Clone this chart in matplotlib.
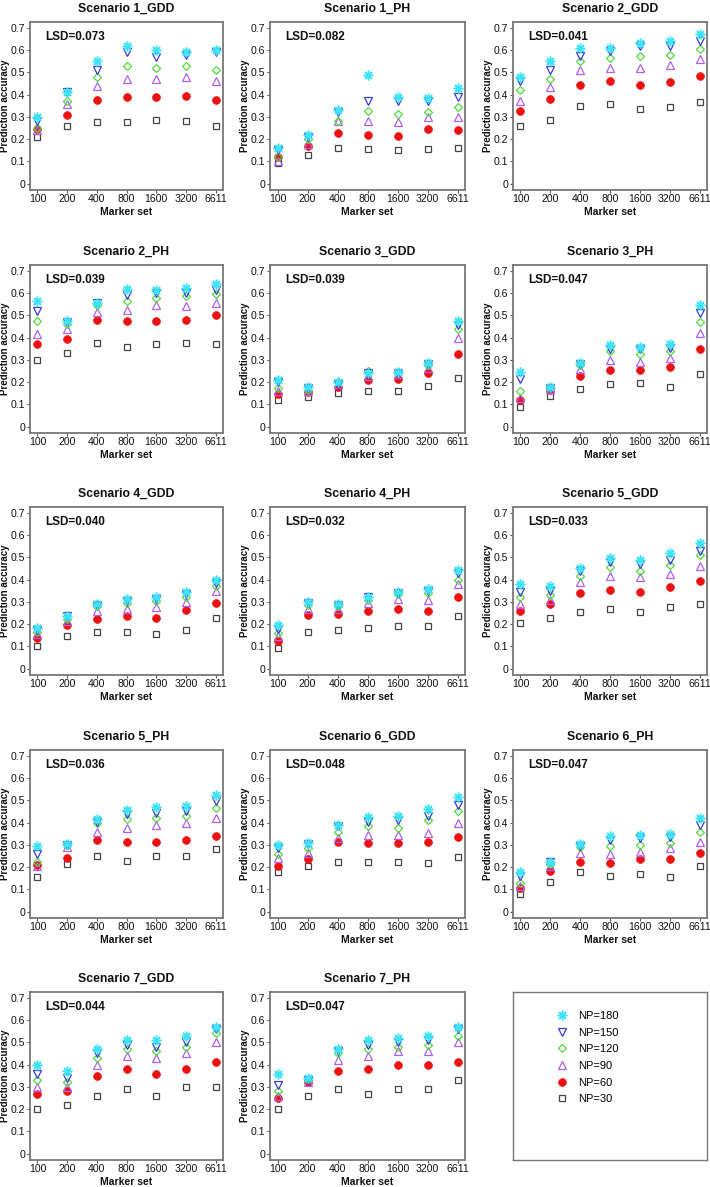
import matplotlib
matplotlib.use("Agg")
import matplotlib.pyplot as plt
from matplotlib.lines import Line2D

plt.rcParams['font.family'] = ['Liberation Sans', 'DejaVu Sans']

marker_sets = ["100", "200", "400", "800", "1600", "3200", "6611"]
series_names = ["NP=180", "NP=150", "NP=120", "NP=90", "NP=60", "NP=30"]

titles = ["Scenario 1_GDD", "Scenario 1_PH", "Scenario 2_GDD", "Scenario 2_PH",
          "Scenario 3_GDD", "Scenario 3_PH", "Scenario 4_GDD", "Scenario 4_PH",
          "Scenario 5_GDD", "Scenario 5_PH", "Scenario 6_GDD", "Scenario 6_PH",
          "Scenario 7_GDD", "Scenario 7_PH"]
lsd = ["0.073", "0.082", "0.041", "0.039", "0.039", "0.047", "0.040",
       "0.032", "0.033", "0.036", "0.048", "0.047", "0.044", "0.047"]

# each panel: rows = NP180, NP150, NP120, NP90, NP60, NP30
s1_gdd = [[0.30, 0.41, 0.55, 0.62, 0.60, 0.59, 0.60],
          [0.28, 0.41, 0.51, 0.59, 0.57, 0.58, 0.59],
          [0.25, 0.37, 0.48, 0.53, 0.52, 0.53, 0.51],
          [0.24, 0.36, 0.44, 0.47, 0.47, 0.48, 0.46],
          [0.245, 0.31, 0.375, 0.39, 0.39, 0.395, 0.375],
          [0.21, 0.26, 0.275, 0.275, 0.285, 0.28, 0.26]]
s1_ph = [[0.16, 0.22, 0.33, 0.49, 0.39, 0.385, 0.43],
         [0.15, 0.21, 0.32, 0.37, 0.37, 0.37, 0.39],
         [0.12, 0.20, 0.28, 0.325, 0.315, 0.32, 0.345],
         [0.10, 0.18, 0.28, 0.28, 0.275, 0.30, 0.30],
         [0.12, 0.17, 0.23, 0.22, 0.215, 0.245, 0.24],
         [0.095, 0.13, 0.16, 0.155, 0.15, 0.155, 0.16]]
s2_gdd = [[0.48, 0.55, 0.61, 0.61, 0.63, 0.64, 0.67],
          [0.46, 0.51, 0.575, 0.595, 0.62, 0.62, 0.64],
          [0.42, 0.47, 0.55, 0.565, 0.575, 0.58, 0.605],
          [0.37, 0.435, 0.51, 0.52, 0.52, 0.535, 0.56],
          [0.325, 0.38, 0.445, 0.46, 0.445, 0.455, 0.485],
          [0.26, 0.285, 0.35, 0.36, 0.335, 0.345, 0.365]]
s2_ph = [[0.565, 0.475, 0.555, 0.62, 0.615, 0.625, 0.64],
         [0.52, 0.47, 0.555, 0.59, 0.60, 0.60, 0.615],
         [0.475, 0.46, 0.545, 0.565, 0.58, 0.585, 0.595],
         [0.415, 0.44, 0.515, 0.525, 0.545, 0.54, 0.555],
         [0.37, 0.395, 0.48, 0.475, 0.475, 0.48, 0.50],
         [0.30, 0.33, 0.375, 0.36, 0.37, 0.375, 0.37]]
s3_gdd = [[0.21, 0.18, 0.20, 0.24, 0.245, 0.285, 0.475],
          [0.20, 0.175, 0.19, 0.24, 0.24, 0.28, 0.455],
          [0.175, 0.165, 0.20, 0.25, 0.24, 0.275, 0.44],
          [0.16, 0.16, 0.19, 0.23, 0.235, 0.265, 0.40],
          [0.145, 0.155, 0.18, 0.21, 0.215, 0.24, 0.325],
          [0.12, 0.135, 0.15, 0.16, 0.16, 0.185, 0.22]]
s3_ph = [[0.245, 0.18, 0.285, 0.365, 0.36, 0.37, 0.545],
         [0.215, 0.175, 0.28, 0.35, 0.35, 0.355, 0.51],
         [0.16, 0.175, 0.275, 0.34, 0.325, 0.34, 0.47],
         [0.13, 0.17, 0.26, 0.30, 0.29, 0.31, 0.42],
         [0.12, 0.165, 0.23, 0.255, 0.255, 0.27, 0.35],
         [0.09, 0.14, 0.17, 0.19, 0.195, 0.18, 0.235]]
s4_gdd = [[0.185, 0.235, 0.29, 0.315, 0.32, 0.345, 0.40],
          [0.175, 0.235, 0.285, 0.305, 0.315, 0.335, 0.385],
          [0.165, 0.225, 0.28, 0.295, 0.305, 0.32, 0.37],
          [0.155, 0.215, 0.26, 0.27, 0.275, 0.30, 0.35],
          [0.14, 0.195, 0.225, 0.235, 0.23, 0.265, 0.295],
          [0.10, 0.145, 0.165, 0.165, 0.155, 0.175, 0.23]]
s4_ph = [[0.195, 0.30, 0.29, 0.32, 0.345, 0.36, 0.445],
         [0.18, 0.295, 0.285, 0.32, 0.34, 0.35, 0.43],
         [0.16, 0.285, 0.28, 0.31, 0.335, 0.34, 0.40],
         [0.145, 0.27, 0.27, 0.295, 0.315, 0.31, 0.38],
         [0.125, 0.24, 0.245, 0.26, 0.27, 0.26, 0.32],
         [0.095, 0.165, 0.175, 0.185, 0.19, 0.19, 0.235]]
s5_gdd = [[0.38, 0.37, 0.45, 0.495, 0.49, 0.52, 0.565],
          [0.345, 0.35, 0.44, 0.48, 0.47, 0.49, 0.53],
          [0.32, 0.33, 0.415, 0.455, 0.44, 0.465, 0.51],
          [0.29, 0.31, 0.39, 0.415, 0.41, 0.425, 0.46],
          [0.26, 0.29, 0.34, 0.355, 0.345, 0.365, 0.395],
          [0.205, 0.23, 0.255, 0.27, 0.255, 0.275, 0.29]]
s5_ph = [[0.295, 0.305, 0.415, 0.455, 0.47, 0.475, 0.525],
         [0.26, 0.30, 0.405, 0.44, 0.445, 0.45, 0.495],
         [0.225, 0.30, 0.40, 0.415, 0.42, 0.43, 0.465],
         [0.205, 0.29, 0.36, 0.375, 0.39, 0.40, 0.42],
         [0.21, 0.24, 0.32, 0.315, 0.315, 0.32, 0.34],
         [0.155, 0.215, 0.25, 0.23, 0.25, 0.25, 0.28]]
s6_gdd = [[0.30, 0.31, 0.39, 0.425, 0.43, 0.46, 0.515],
          [0.285, 0.305, 0.385, 0.405, 0.41, 0.43, 0.48],
          [0.26, 0.285, 0.36, 0.385, 0.375, 0.41, 0.45],
          [0.24, 0.265, 0.33, 0.345, 0.345, 0.355, 0.40],
          [0.205, 0.235, 0.315, 0.31, 0.31, 0.315, 0.335],
          [0.18, 0.205, 0.225, 0.225, 0.225, 0.22, 0.245]]
s6_ph = [[0.18, 0.225, 0.305, 0.34, 0.345, 0.35, 0.42],
         [0.16, 0.225, 0.295, 0.32, 0.33, 0.335, 0.39],
         [0.13, 0.215, 0.29, 0.295, 0.30, 0.31, 0.36],
         [0.115, 0.205, 0.265, 0.26, 0.27, 0.285, 0.315],
         [0.105, 0.185, 0.225, 0.22, 0.235, 0.235, 0.265],
         [0.08, 0.135, 0.18, 0.16, 0.17, 0.155, 0.205]]
s7_gdd = [[0.40, 0.37, 0.47, 0.51, 0.51, 0.53, 0.57],
          [0.36, 0.34, 0.45, 0.49, 0.48, 0.50, 0.56],
          [0.33, 0.32, 0.43, 0.47, 0.46, 0.48, 0.54],
          [0.30, 0.30, 0.40, 0.44, 0.43, 0.45, 0.50],
          [0.27, 0.28, 0.35, 0.38, 0.36, 0.38, 0.41],
          [0.20, 0.22, 0.26, 0.29, 0.26, 0.30, 0.30]]
s7_ph = [[0.36, 0.34, 0.47, 0.51, 0.52, 0.53, 0.57],
         [0.31, 0.33, 0.46, 0.49, 0.50, 0.51, 0.56],
         [0.28, 0.33, 0.45, 0.47, 0.48, 0.49, 0.53],
         [0.26, 0.32, 0.42, 0.44, 0.46, 0.46, 0.50],
         [0.25, 0.32, 0.37, 0.38, 0.40, 0.40, 0.41],
         [0.20, 0.26, 0.29, 0.27, 0.29, 0.29, 0.33]]

panels = [s1_gdd, s1_ph, s2_gdd, s2_ph, s3_gdd, s3_ph, s4_gdd, s4_ph,
          s5_gdd, s5_ph, s6_gdd, s6_ph, s7_gdd, s7_ph]

# styles (NP180 ... NP30)
styles = [
    dict(marker=(8, 2, 0), color='#3fe3f7', mfc='#3fe3f7', ms=7.0, mew=1.1),
    dict(marker='v', color='#3a3ad8', mfc='none', ms=5.2, mew=0.9),
    dict(marker='D', color='#4fdc3c', mfc='none', ms=4.2, mew=0.9),
    dict(marker='^', color='#b060f0', mfc='none', ms=5.2, mew=0.9),
    dict(marker='o', color='#ee1111', mfc='#ee1111', ms=5.6, mew=0.5),
    dict(marker='s', color='#444444', mfc='none', ms=4.3, mew=0.9),
]

W, H = 710, 1187
fig = plt.figure(figsize=(W / 100, H / 100), dpi=100)

col_left = [30, 270, 513]
col_w = [193, 195, 194]
row_top = [22, 265, 507, 750, 992]
ax_h = 168
frame_col = '#777777'

def add_ax(r, c):
    l = col_left[c]
    t = row_top[r]
    return fig.add_axes([l / W, 1 - (t + ax_h) / H, col_w[c] / W, ax_h / H])

xs = list(range(len(marker_sets)))
for i, data in enumerate(panels):
    r, c = divmod(i, 3)
    ax = add_ax(r, c)
    for k in range(len(series_names) - 1, -1, -1):
        st = styles[k]
        ax.plot(xs, data[k], linestyle='none', marker=st['marker'], color=st['color'],
                mfc=st['mfc'], ms=st['ms'], mew=st['mew'], zorder=3 + (5 - k))
    ax.set_xlim(-0.25, 6.25)
    ax.set_ylim(-0.028, 0.726)
    ax.set_xticks(xs)
    ax.set_xticklabels(marker_sets)
    ax.set_yticks([0, 0.1, 0.2, 0.3, 0.4, 0.5, 0.6, 0.7])
    ax.set_yticklabels(["0", "0.1", "0.2", "0.3", "0.4", "0.5", "0.6", "0.7"])
    ax.tick_params(axis='both', labelsize=7.6, length=2.2, width=0.8, color='#555555',
                   pad=1.0, labelcolor='#111111')
    for sp in ax.spines.values():
        sp.set_color(frame_col)
        sp.set_linewidth(1.3)
    ax.set_title(titles[i], fontsize=8.8, fontweight='bold', pad=7, color='#111111')
    ax.set_xlabel("Marker set", fontsize=7.5, fontweight='bold', labelpad=2, color='#111111')
    ax.set_ylabel("Prediction accuracy", fontsize=7.0, fontweight='bold', labelpad=1,
                  color='#111111')
    ax.text(0.08, 0.91, "LSD=" + lsd[i], transform=ax.transAxes, fontsize=8.5,
            fontweight='bold', ha='left', va='center', color='#111111')

# legend panel
lax = add_ax(4, 2)
lax.set_xticks([])
lax.set_yticks([])
for sp in lax.spines.values():
    sp.set_color(frame_col)
    sp.set_linewidth(1.0)
handles = []
for k, name in enumerate(series_names):
    st = styles[k]
    handles.append(Line2D([], [], linestyle='none', marker=st['marker'], color=st['color'],
                          mfc=st['mfc'], ms=st['ms'], mew=st['mew'], label=name))
lax.legend(handles=handles, loc='center left', bbox_to_anchor=(0.17, 0.61), frameon=False,
           fontsize=8.0, labelspacing=0.6, handlelength=1.0, handletextpad=1.0)

fig.savefig("out.png", dpi=100)
